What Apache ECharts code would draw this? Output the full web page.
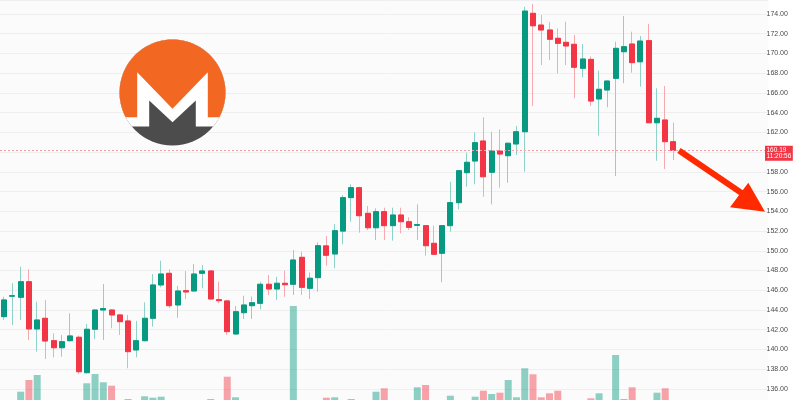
<!DOCTYPE html>
<html><head><meta charset="utf-8">
<script src="https://cdn.jsdelivr.net/npm/echarts@6/dist/echarts.min.js"></script>
<style>html,body{margin:0;padding:0;background:#fff}#c{width:800px;height:400px}</style>
</head><body><div id="c"></div>
<script>
// ---- data ----
const openP  = [143.33,145.40,145.29,146.87,142.08,143.16,140.89,140.18,140.89,141.24,
                137.65,142.05,144.00,144.00,143.50,142.89,139.95,140.89,143.16,146.54,
                147.72,144.51,145.96,145.93,147.72,147.96,145.05,144.92,141.57,143.73,
                144.44,144.68,146.61,146.13,146.71,146.61,149.34,146.20,147.28,150.50,
                149.68,152.00,155.39,156.40,153.80,152.34,153.97,152.55,153.63,152.95,
                152.58,152.55,150.76,149.75,152.55,154.88,157.92,159.10,161.13,157.96,
                160.12,159.64,160.83,162.07,174.07,172.88,172.38,171.54,171.13,170.93,
                168.50,169.40,165.39,166.30,167.48,170.18,170.96,169.16,171.30,162.98,
                163.26,161.06];
const closeP = [145.02,145.45,146.87,142.08,142.99,140.86,140.18,140.79,141.37,137.75,
                142.05,144.00,144.15,143.50,142.82,139.78,140.89,143.16,146.54,147.65,
                144.44,145.93,145.83,147.65,147.96,145.12,144.95,141.81,143.83,144.51,
                144.74,146.61,146.13,146.71,146.57,149.07,146.30,147.22,150.52,149.55,
                152.04,155.39,156.40,153.56,152.34,153.97,152.55,153.63,152.95,152.38,
                152.66,150.52,149.65,152.55,154.88,158.12,158.97,160.96,157.51,160.12,
                159.81,160.90,162.07,174.30,172.81,172.38,171.44,171.03,170.76,168.60,
                169.44,165.18,166.37,167.21,170.52,170.69,169.07,171.26,162.98,163.43,
                161.06,160.19];
const lowP   = [142.99,142.48,142.99,140.96,139.78,139.04,139.21,139.27,140.79,137.52,
                137.55,141.03,140.96,142.15,141.47,138.10,139.21,140.80,142.31,146.30,
                144.18,143.22,145.09,145.90,146.20,145.00,144.68,141.47,141.50,143.09,
                143.09,144.07,145.52,145.02,145.35,145.52,145.52,145.12,145.86,148.50,
                148.23,150.66,152.95,151.84,152.11,151.10,151.10,151.03,151.78,152.11,
                151.10,149.51,149.60,146.81,151.94,154.21,156.50,156.74,155.49,154.71,
                156.40,156.90,159.71,158.02,164.68,168.83,169.34,167.99,168.83,165.46,
                167.59,164.68,161.67,164.55,157.58,166.98,168.05,166.63,162.95,159.13,
                158.29,159.20];
const highP  = [145.35,146.71,148.39,148.13,144.85,145.00,141.64,141.47,143.67,141.40,
                142.59,144.10,146.64,144.05,143.55,143.50,142.89,144.78,147.65,149.00,
                148.13,146.44,147.96,148.67,148.56,148.00,146.87,145.00,144.41,145.45,
                145.35,146.87,147.55,147.38,148.00,150.08,149.91,147.80,150.86,151.50,
                152.72,155.66,156.74,156.50,154.54,154.31,154.37,154.37,154.37,153.40,
                154.71,152.60,152.55,152.60,157.00,158.15,159.94,162.00,163.53,162.07,
                162.31,161.00,162.65,174.74,175.01,173.90,173.20,172.55,173.22,171.87,
                170.96,169.70,168.25,167.25,171.19,173.80,172.21,171.77,172.99,166.47,
                166.70,163.00];
const volume = [0,0,8.3,20,25,0,0,0,0,0,
                16.7,26,17.7,14.3,0,1,0,3.7,2.3,3.3,
                0,0,0,0,0,1,0,23.3,2.7,0,
                0,0,0,0,0,94,0,0,0,2.3,
                2.7,0,1,0,0,8.3,11.7,0,0,0,
                12.7,15,0,0,4.3,0,0,3.3,9.3,6,
                7.3,20,2.7,31.7,25.7,2.7,6.7,9.3,0,0,
                0,1.7,6.7,0,45,1,12.7,0,0,7.3,
                11.7,0];
const priceMin = 134.88, priceMax = 175.42, priceStep = 2;
const lastPrice = 160.19;
const lastTime = '11:20:56';
const emptySlots = 11;

// ---- build ----
const n = openP.length;
const cats = [];
for (let i = 0; i < n + emptySlots; i++) cats.push(String(i));
const wickData = openP.map((o, i) => [o, closeP[i], lowP[i], highP[i]]);
const bodyData = openP.map((o, i) => [o, closeP[i], Math.min(o, closeP[i]), Math.max(o, closeP[i])]);

const UP = '#089981', DOWN = '#f23645';
const UP_W = '#8fd3c8', DOWN_W = '#f7a9b0';
const UP_V = 'rgba(8,153,129,0.45)', DOWN_V = 'rgba(242,54,69,0.45)';

// Monero logo geometry (decoration)
const L = {cx: 172.5, cy: 92.5, r: 53};
function arc(level) {
  const a = Math.asin(level / L.r);
  const pts = [];
  const a0 = Math.PI - a, a1 = 2 * Math.PI + a, steps = 60;
  for (let k = 0; k <= steps; k++) {
    const t = a0 + (a1 - a0) * k / steps;
    pts.push([L.cx + L.r * Math.cos(t), L.cy + L.r * Math.sin(t)]);
  }
  return pts;
}
const P = (dx, dy) => [L.cx + dx, L.cy + dy];
const whitePoly = arc(34).concat([P(23.3, 34), P(23.3, 8), P(0, 29.7), P(-23.3, 8), P(-23.3, 34)]);
const orangePoly = arc(24.7).concat([P(35.3, 24.7), P(35.3, -20.3), P(0, 16.3), P(-35.3, -20.3), P(-35.3, 24.7)]);

const FONT = '"Liberation Sans", Arial, sans-serif';

const chart = echarts.init(document.getElementById('c'), null, {renderer: 'canvas'});
chart.setOption({
  animation: false,
  backgroundColor: '#ffffff',
  grid: [
    {left: -2.45, right: 31.5, top: 0, bottom: 0, show: true, backgroundColor: '#fbfbfb', borderWidth: 0},
    {left: -2.45, right: 31.5, top: 300, bottom: 0}
  ],
  xAxis: [
    {type: 'category', data: cats, gridIndex: 0, boundaryGap: true, show: false},
    {type: 'category', data: cats, gridIndex: 1, boundaryGap: true, show: false}
  ],
  yAxis: [
    {type: 'value', gridIndex: 0, position: 'right', min: priceMin, max: priceMax,
     splitNumber: 20, minInterval: priceStep, maxInterval: priceStep,
     axisLine: {show: false}, axisTick: {show: false},
     splitLine: {lineStyle: {color: '#efefef', width: 1}},
     axisLabel: {margin: -2, fontSize: 7, color: '#4a4a4a', fontFamily: FONT,
                 showMinLabel: false, showMaxLabel: false,
                 formatter: v => v.toFixed(2)}},
    {type: 'value', gridIndex: 1, min: 0, max: 100, show: false}
  ],
  graphic: [
    {type: 'circle', shape: {cx: L.cx, cy: L.cy, r: L.r}, style: {fill: '#4c4c4c'}, z: 1},
    {type: 'polygon', shape: {points: whitePoly}, style: {fill: '#ffffff'}, z: 1},
    {type: 'polygon', shape: {points: orangePoly}, style: {fill: '#f26822'}, z: 1},
    {type: 'line', shape: {x1: 679, y1: 150.5, x2: 743, y2: 194}, style: {stroke: '#ff2a00', lineWidth: 6}, z: 50},
    {type: 'polygon', shape: {points: [[765, 211.7], [748.3, 182.7], [730, 207.3]]}, style: {fill: '#ff2a00'}, z: 50}
  ],
  series: [
    {type: 'bar', xAxisIndex: 1, yAxisIndex: 1, data: volume, barWidth: 7,
     itemStyle: {color: p => closeP[p.dataIndex] >= openP[p.dataIndex] ? UP_V : DOWN_V}},
    {type: 'candlestick', xAxisIndex: 0, yAxisIndex: 0, data: wickData, barWidth: 5.5,
     itemStyle: {color: UP_W, color0: DOWN_W, borderColor: UP_W, borderColor0: DOWN_W, borderWidth: 1}},
    {type: 'candlestick', xAxisIndex: 0, yAxisIndex: 0, data: bodyData, barWidth: 5.5,
     itemStyle: {color: UP, color0: DOWN, borderColor: UP, borderColor0: DOWN, borderWidth: 1},
     markLine: {
       symbol: 'none', silent: true, animation: false, z: 10,
       data: [{yAxis: lastPrice}],
       lineStyle: {color: '#f5a0a8', type: [2, 2], width: 1},
       label: {show: true, position: 'end', distance: -3.5, offset: [0, 3],
               formatter: lastPrice.toFixed(2) + '\n' + lastTime,
               backgroundColor: DOWN, color: '#ffffff', fontSize: 6.5, lineHeight: 6.5,
               fontFamily: FONT, padding: [1, 1.5, 1, 1.5]}
     }}
  ]
});
</script>
</body></html>
